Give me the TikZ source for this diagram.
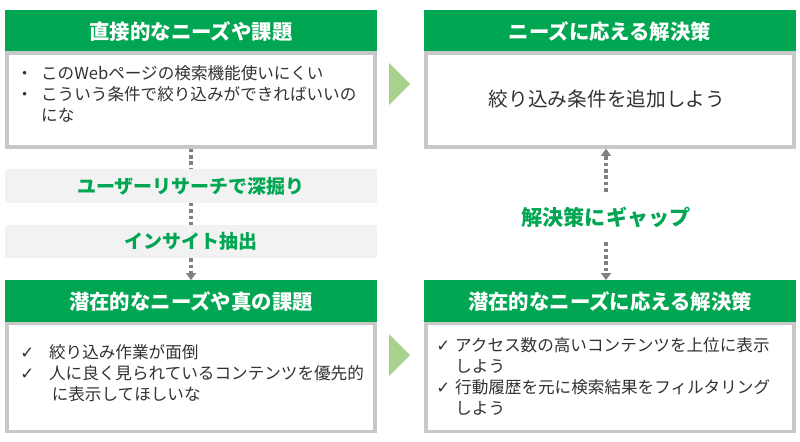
\documentclass[tikz,border=0pt]{standalone}
\usepackage{fontspec}
\setmainfont{Noto Sans CJK JP}
\newfontfamily\symfont{DejaVu Sans}
\usetikzlibrary{arrows.meta,positioning}
\definecolor{hdgreen}{RGB}{0,166,81}
\definecolor{bandgray}{RGB}{242,242,242}
\definecolor{framegray}{RGB}{200,200,200}
\definecolor{trigreen}{RGB}{169,209,142}
\definecolor{dotgray}{RGB}{128,128,128}
\definecolor{txtgray}{RGB}{50,50,50}
\tikzset{
  header/.style={fill=hdgreen, text=white, font=\fontsize{14.5}{17}\selectfont\bfseries, minimum width=9.3cm, minimum height=1.08cm, inner sep=0pt},
  bodybox/.style={draw=framegray, line width=2.5pt, fill=white, minimum width=9.2cm, inner sep=0pt},
  band/.style={fill=bandgray, text=hdgreen, font=\fontsize{13.5}{16}\selectfont\bfseries, minimum width=9.3cm, minimum height=0.83cm, inner sep=0pt},
  bodytext/.style={text=txtgray, font=\fontsize{11.8}{15}\selectfont, align=left, anchor=north west, inner sep=0pt},
  link/.style={dotgray, line width=2.5pt, dash pattern=on 2.5pt off 2pt, -{Triangle[length=5pt,width=7pt]}},
  link0/.style={dotgray, line width=2.5pt, dash pattern=on 2.5pt off 2pt},
}
\newcommand{\chk}{{\symfont\char"2713}}
\begin{document}
\begin{tikzpicture}[x=0.025cm,y=-0.025cm]
  \useasboundingbox (0,0) rectangle (800,441);
  % Left column
  \node[header] (need1) at (191,31.5) {直接的なニーズや課題};
  \node[bodybox, minimum height=2.35cm] (need1body) at (191,100) {};
  \node[bodytext] (need1txt) at (16,65) {・\hspace{0.5em}このWebページの検索機能使いにくい\\
    ・\hspace{0.5em}こういう条件で絞り込みができればいいの\\
    \hspace{1.5em}にな};
  \node[band] (deep) at (191,186) {ユーザーリサーチで深掘り};
  \node[band] (insight) at (191,241.5) {インサイト抽出};
  \node[header] (need2) at (191,302) {潜在的なニーズや真の課題};
  \node[bodybox, minimum height=2.7cm] (need2body) at (191,377.5) {};
  \node[bodytext] (need2txt) at (20,344) {\chk\hspace{0.9em}絞り込み作業が面倒\\
    \chk\hspace{0.9em}人に良く見られているコンテンツを優先的\\
    \hspace{1.9em}に表示してほしいな};
  % Right column
  \node[header] (sol1) at (610,31.5) {ニーズに応える解決策};
  \node[bodybox, minimum height=2.35cm] (sol1body) at (610,100) {};
  \node[text=txtgray, font=\fontsize{14}{17}\selectfont] (sol1txt) at (607,99) {絞り込み条件を追加しよう};
  \node[text=hdgreen, font=\fontsize{15}{18}\selectfont\bfseries] (gap) at (606,217) {解決策にギャップ};
  \node[header] (sol2) at (610,302) {潜在的なニーズに応える解決策};
  \node[bodybox, minimum height=2.7cm] (sol2body) at (610,377.5) {};
  \node[bodytext] (sol2txt) at (436,337) {\chk\hspace{0.3em}アクセス数の高いコンテンツを上位に表示\\
    \hspace{1.15em}しよう\\
    \chk\hspace{0.3em}行動履歴を元に検索結果をフィルタリング\\
    \hspace{1.15em}しよう};
  % Arrows between columns
  \fill[trigreen] (389,63) -- (410,84) -- (389,105) -- cycle;
  \fill[trigreen] (389,334) -- (410,355) -- (389,376) -- cycle;
  % Dotted links
  \draw[link0] (need1body.south -| 191,0) -- (deep.north);
  \draw[link0] (deep.south) -- (insight.north);
  \draw[link] (insight.south) -- (need2.north);
  \draw[link] (gap.north) ++(0,-10) coordinate (gaptop) (gaptop) -- (sol1body.south -| gaptop);
  \draw[link] (gap.south) ++(0,10) coordinate (gapbot) (gapbot) -- (sol2.north -| gapbot);
\end{tikzpicture}
\end{document}
